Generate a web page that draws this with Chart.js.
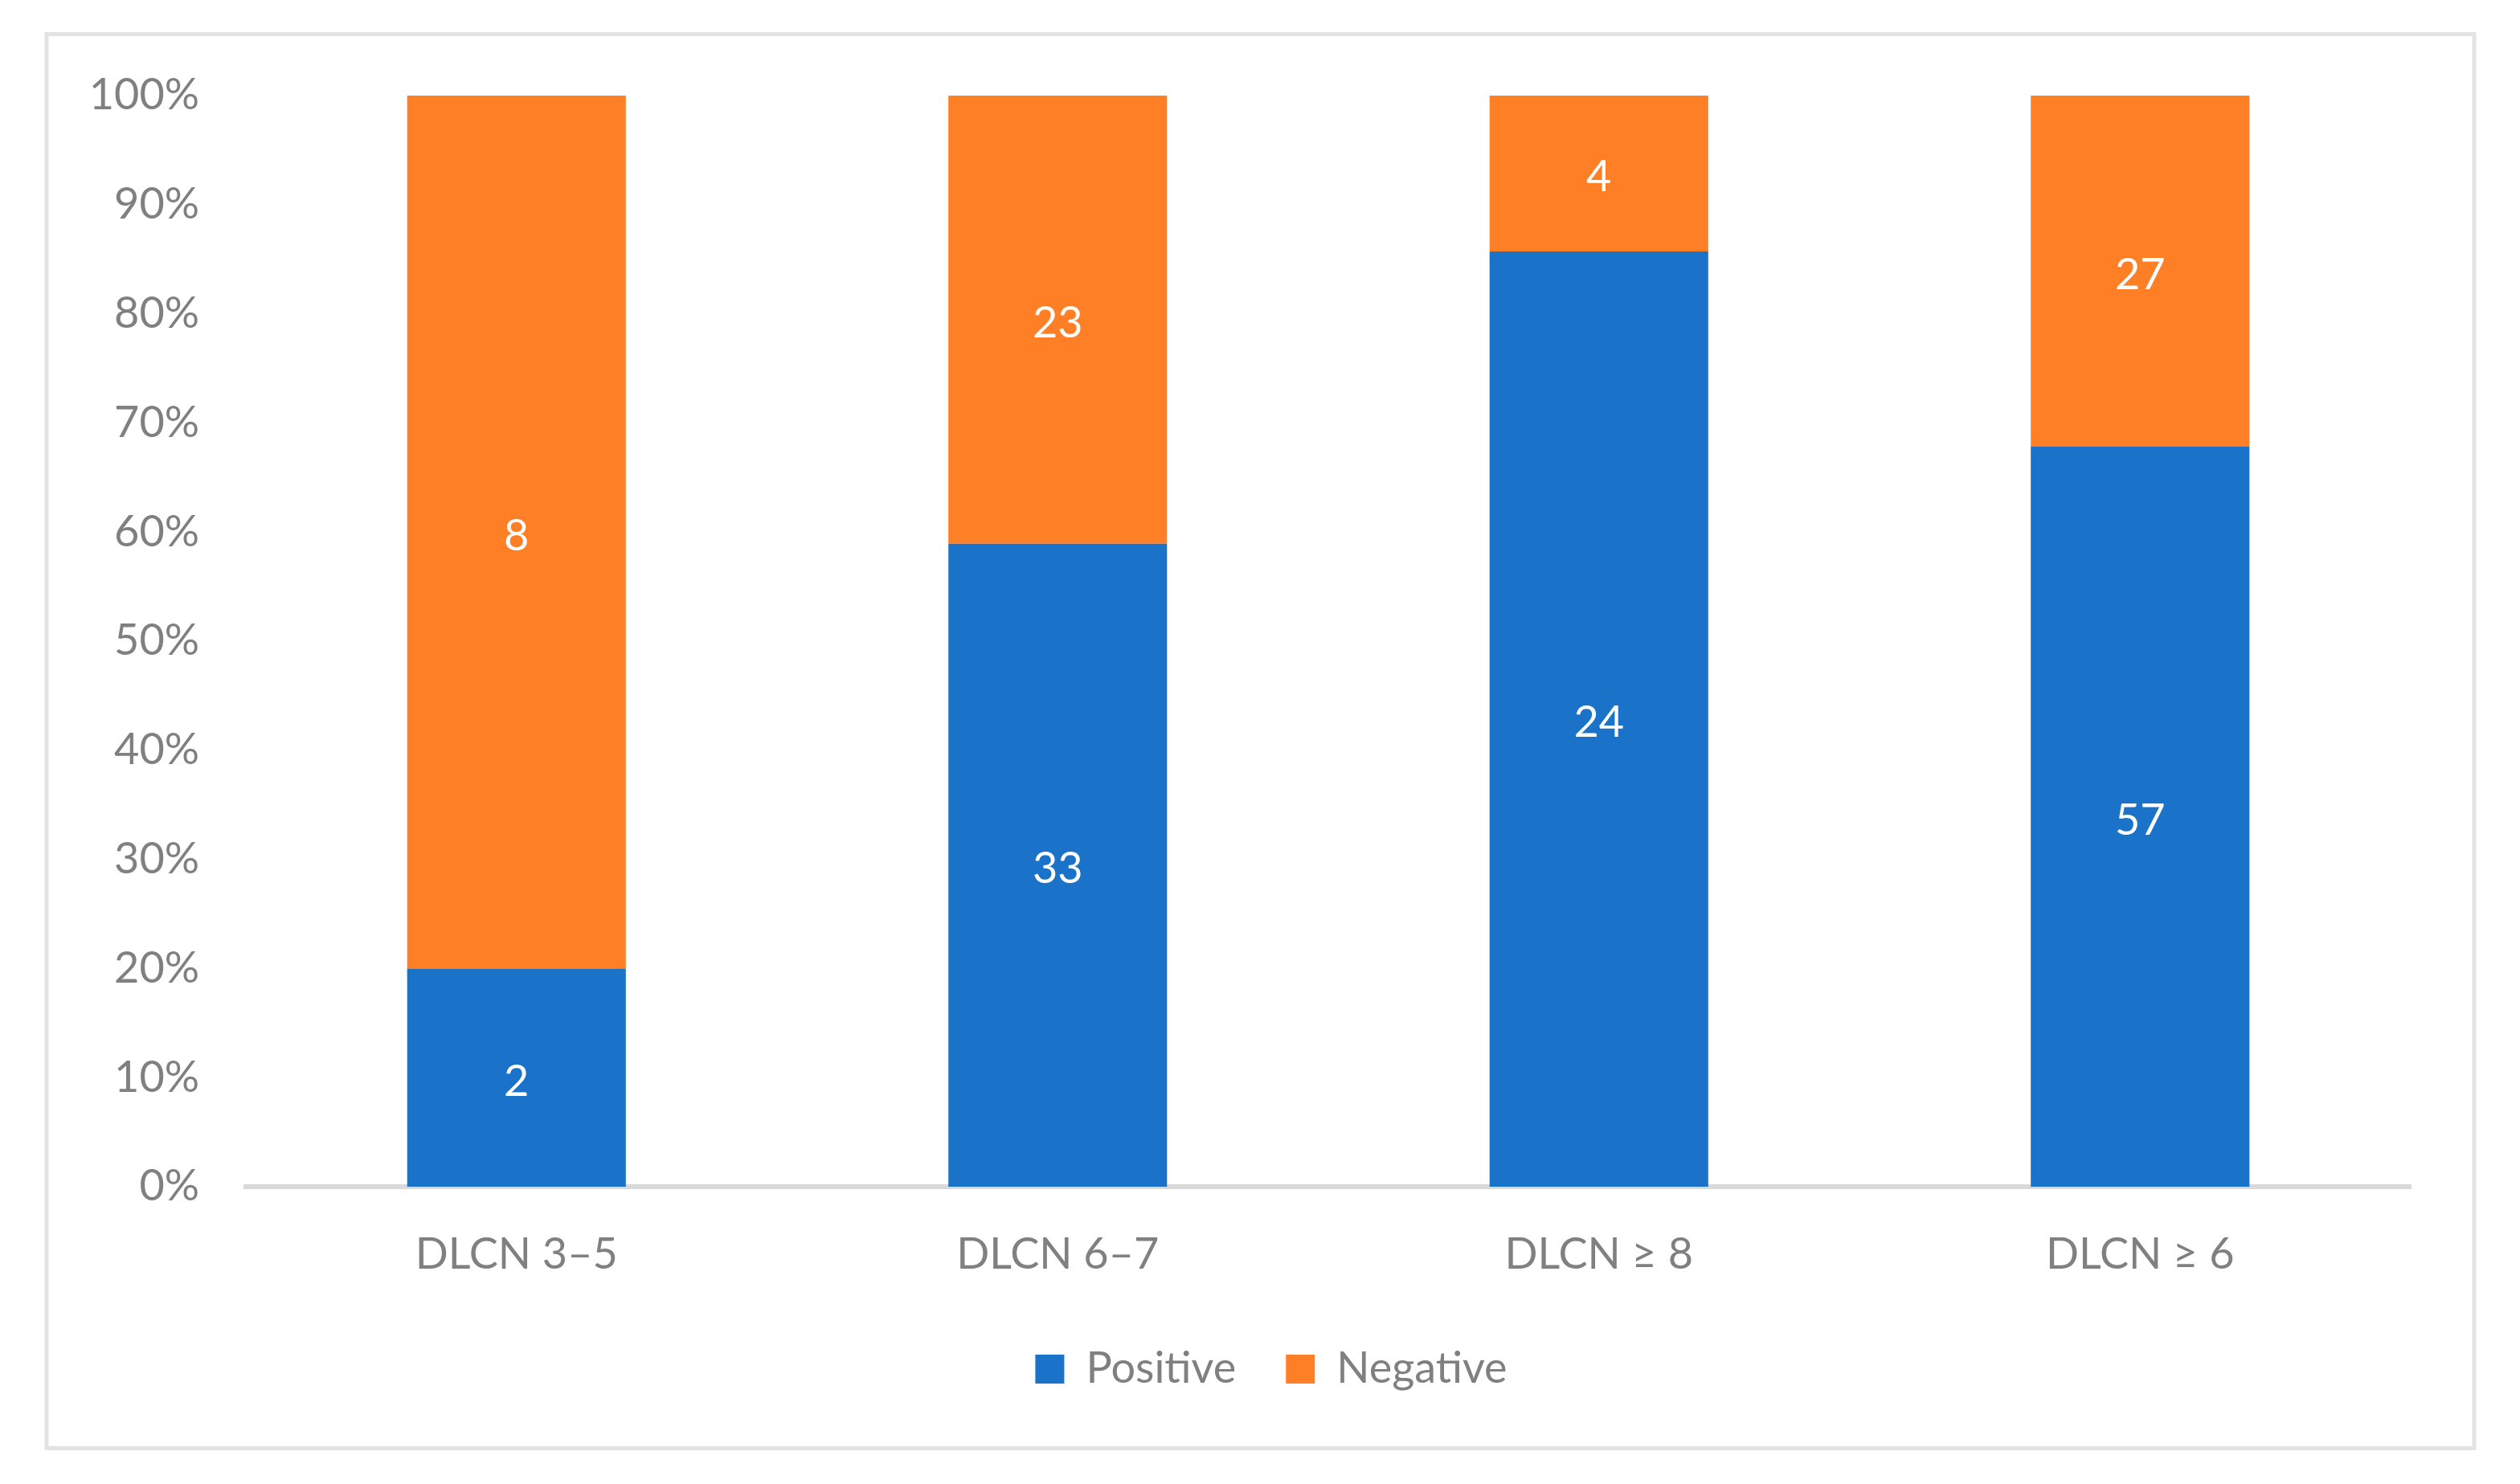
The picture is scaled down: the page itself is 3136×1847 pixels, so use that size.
<!DOCTYPE html>
<html>
<head>
<meta charset="utf-8">
<script src="https://cdn.jsdelivr.net/npm/chart.js@4/dist/chart.umd.min.js"></script>
<style>
  html, body { margin: 0; padding: 0; background: #fff; }
  canvas { display: block; }
</style>
</head>
<body>
<canvas id="dlcnChart" width="3136" height="1847" style="width:3136px;height:1847px"></canvas>
<script>
const categories = ['DLCN 3–5', 'DLCN 6–7', 'DLCN ≥ 8', 'DLCN ≥ 6'];
const positiveCounts = [2, 33, 24, 57];
const negativeCounts = [8, 23, 4, 27];
const yTicks = [0, 10, 20, 30, 40, 50, 60, 70, 80, 90, 100];

// share of each group, so bars stack to 100%
const totals = positiveCounts.map((p, i) => p + negativeCounts[i]);
const positiveShare = positiveCounts.map((p, i) => p / totals[i] * 100);
const negativeShare = negativeCounts.map((n, i) => n / totals[i] * 100);

const FONT = 'Lato, "Open Sans", sans-serif';
const GREY = '#808080';

// outer frame round the whole chart
const framePlugin = {
  id: 'frame',
  beforeDraw(chart) {
    const c = chart.ctx;
    c.save();
    c.strokeStyle = '#E3E3E3';
    c.lineWidth = 5;
    c.strokeRect(58, 42.5, 3021, 1760);
    c.restore();
  }
};

// the legend sits a little right of the plot centre in the original
const legendShift = {
  id: 'legendShift',
  afterLayout(chart) {
    chart.legend.left += 82;
    chart.legend.right += 82;
  }
};

// counts written in the middle of each segment
const countLabels = {
  id: 'countLabels',
  afterDatasetsDraw(chart) {
    const c = chart.ctx;
    c.save();
    c.fillStyle = '#ffffff';
    c.font = '54px ' + FONT;
    c.textAlign = 'center';
    c.textBaseline = 'middle';
    chart.data.datasets.forEach((ds, di) => {
      chart.getDatasetMeta(di).data.forEach((bar, i) => {
        c.fillText(String(ds.counts[i]), bar.x, (bar.y + bar.base) / 2 + 5);
      });
    });
    c.restore();
  }
};

const ctx = document.getElementById('dlcnChart').getContext('2d');
new Chart(ctx, {
  type: 'bar',
  data: {
    labels: categories,
    datasets: [
      {
        label: 'Positive',
        data: positiveShare,
        counts: positiveCounts,
        backgroundColor: '#1A72C9',
        categoryPercentage: 1,
        barPercentage: 0.404
      },
      {
        label: 'Negative',
        data: negativeShare,
        counts: negativeCounts,
        backgroundColor: '#FF7F27',
        categoryPercentage: 1,
        barPercentage: 0.404
      }
    ]
  },
  options: {
    responsive: false,
    devicePixelRatio: 1,
    animation: false,
    layout: { padding: { left: 0, right: 136, top: 119, bottom: 106 } },
    plugins: {
      tooltip: { enabled: false },
      legend: {
        position: 'bottom',
        labels: {
          color: GREY,
          font: { family: FONT, size: 54 },
          boxWidth: 36,
          boxHeight: 36,
          padding: 62
        }
      }
    },
    scales: {
      x: {
        stacked: true,
        grid: { display: false },
        border: { color: '#D9D9D9', width: 6 },
        ticks: { color: GREY, font: { family: FONT, size: 54 }, padding: 44 },
        afterFit(scale) { scale.height = 138; }
      },
      y: {
        stacked: true,
        min: 0,
        max: 100,
        grid: { display: false, drawTicks: false },
        border: { display: false },
        afterBuildTicks(scale) { scale.ticks = yTicks.map(v => ({ value: v })); },
        ticks: {
          color: GREY,
          font: { family: FONT, size: 54 },
          padding: 58,
          callback: v => v + '%'
        },
        afterFit(scale) { scale.width = 306; }
      }
    }
  },
  plugins: [framePlugin, legendShift, countLabels]
});
</script>
</body>
</html>
